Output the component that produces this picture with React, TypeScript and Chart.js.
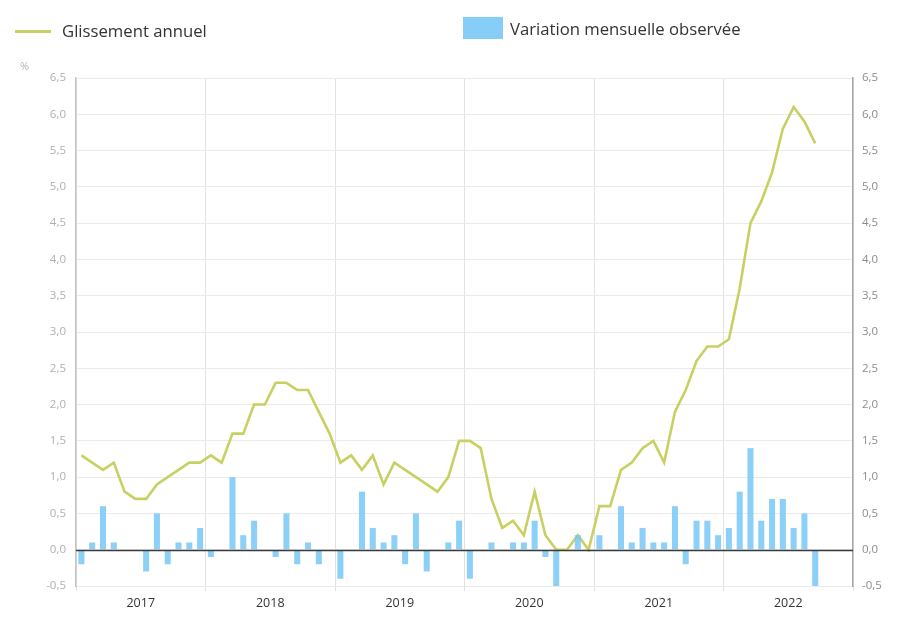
import React, { useEffect, useRef } from "react";
import { Chart, registerables } from "chart.js";

Chart.register(...registerables);

// Years shown under the axis, one label per 12 months
const years = ["2017", "2018", "2019", "2020", "2021", "2022"];

// Glissement annuel (%), monthly from January 2017 to September 2022
const glissementAnnuel = [
  1.3, 1.2, 1.1, 1.2, 0.8, 0.7, 0.7, 0.9, 1.0, 1.1, 1.2, 1.2,
  1.3, 1.2, 1.6, 1.6, 2.0, 2.0, 2.3, 2.3, 2.2, 2.2, 1.9, 1.6,
  1.2, 1.3, 1.1, 1.3, 0.9, 1.2, 1.1, 1.0, 0.9, 0.8, 1.0, 1.5,
  1.5, 1.4, 0.7, 0.3, 0.4, 0.2, 0.8, 0.2, 0.0, 0.0, 0.2, 0.0,
  0.6, 0.6, 1.1, 1.2, 1.4, 1.5, 1.2, 1.9, 2.2, 2.6, 2.8, 2.8,
  2.9, 3.6, 4.5, 4.8, 5.2, 5.8, 6.1, 5.9, 5.6,
];

// Variation mensuelle observée (%), same months
const variationMensuelle = [
  -0.2, 0.1, 0.6, 0.1, 0.0, 0.0, -0.3, 0.5, -0.2, 0.1, 0.1, 0.3,
  -0.1, 0.0, 1.0, 0.2, 0.4, 0.0, -0.1, 0.5, -0.2, 0.1, -0.2, 0.0,
  -0.4, 0.0, 0.8, 0.3, 0.1, 0.2, -0.2, 0.5, -0.3, 0.0, 0.1, 0.4,
  -0.4, 0.0, 0.1, 0.0, 0.1, 0.1, 0.4, -0.1, -0.5, 0.0, 0.2, 0.0,
  0.2, 0.0, 0.6, 0.1, 0.3, 0.1, 0.1, 0.6, -0.2, 0.4, 0.4, 0.2,
  0.3, 0.8, 1.4, 0.4, 0.7, 0.7, 0.3, 0.5, -0.5,
];

// Value axis range and step
const yMin = -0.5;
const yMax = 6.5;
const yStep = 0.5;

const LINE_COLOR = "#c9d062";
const BAR_COLOR = "rgba(120, 200, 246, 0.85)";
const LEGEND_BAR = "#86cdf7";
const FONT = "'Open Sans', 'DejaVu Sans', sans-serif";

const monthsShown = years.length * 12;
const fmt = (v: number) => v.toFixed(1).replace(".", ",");

// Zero reference line over the bars, and the unit in the top-left corner
const overlayPlugin = {
  id: "overlay",
  afterDatasetsDraw(chart: any) {
    const { ctx, chartArea, scales } = chart;
    const y0 = Math.round(scales.y.getPixelForValue(0)) + 0.5;
    ctx.save();
    ctx.strokeStyle = "#3a3a3a";
    ctx.lineWidth = 1.5;
    ctx.beginPath();
    ctx.moveTo(chartArea.left, y0);
    ctx.lineTo(chartArea.right, y0);
    ctx.stroke();
    ctx.restore();
  },
  afterDraw(chart: any) {
    const { ctx } = chart;
    ctx.save();
    ctx.fillStyle = "#b5b5b5";
    ctx.font = `11px ${FONT}`;
    ctx.textAlign = "left";
    ctx.textBaseline = "middle";
    ctx.fillText("%", 20, 67);
    ctx.restore();
  },
};

export default function App() {
  const canvasRef = useRef<HTMLCanvasElement | null>(null);

  useEffect(() => {
    document.body.style.margin = "0";
    const canvas = canvasRef.current;
    if (!canvas) return;

    const chart = new Chart(canvas, {
      type: "bar",
      data: {
        datasets: [
          {
            type: "line",
            label: "Glissement annuel",
            data: glissementAnnuel.map((v, i) => ({ x: i + 0.5, y: v })),
            borderColor: LINE_COLOR,
            backgroundColor: LINE_COLOR,
            borderWidth: 2.6,
            pointRadius: 0,
            tension: 0,
            order: 2,
            yAxisID: "y",
          } as any,
          {
            type: "bar",
            label: "Variation mensuelle observée",
            data: variationMensuelle.map((v, i) => ({ x: i + 0.5, y: v })),
            backgroundColor: BAR_COLOR,
            borderWidth: 0,
            barPercentage: 0.56,
            categoryPercentage: 1,
            order: 1,
            yAxisID: "y",
          },
        ],
      },
      options: {
        responsive: true,
        maintainAspectRatio: false,
        animation: false,
        layout: { padding: { top: 78, left: 0, right: 0, bottom: 0 } },
        plugins: {
          legend: { display: false },
          tooltip: { enabled: false },
        },
        scales: {
          x: {
            type: "linear",
            min: 0,
            max: monthsShown,
            offset: false,
            afterBuildTicks(scale: any) {
              const t = [];
              for (let k = 0; k <= monthsShown; k += 6) t.push({ value: k });
              scale.ticks = t;
            },
            afterFit(scale: any) {
              scale.height = 45;
            },
            grid: {
              offset: false,
              color: (c: any) =>
                c.tick && c.tick.value % 12 === 0 ? "#e2e2e2" : "rgba(0,0,0,0)",
              lineWidth: 1,
              drawTicks: true,
              tickLength: 5,
            },
            border: { display: false },
            ticks: {
              autoSkip: false,
              maxRotation: 0,
              padding: 5,
              color: "#333",
              font: { family: FONT, size: 12.5 },
              callback: (v: any) =>
                Number(v) % 12 === 6 ? years[(Number(v) - 6) / 12] : "",
            },
          },
          y: {
            position: "left",
            min: yMin,
            max: yMax,
            afterFit(scale: any) {
              scale.width = 76;
            },
            ticks: {
              stepSize: yStep,
              padding: 10,
              color: "#b0b0b0",
              font: { family: FONT, size: 11.5 },
              callback: (v: any) => fmt(Number(v)),
            },
            grid: { color: "#ebebeb", drawTicks: false },
            border: { display: true, color: "#c4c4c4", width: 1.5 },
          },
          y2: {
            position: "right",
            min: yMin,
            max: yMax,
            afterFit(scale: any) {
              scale.width = 50;
            },
            ticks: {
              stepSize: yStep,
              padding: 9,
              color: "#8c8c8c",
              font: { family: FONT, size: 11.5 },
              callback: (v: any) => fmt(Number(v)),
            },
            grid: { drawOnChartArea: false, drawTicks: false },
            border: { display: true, color: "#a8a8a8", width: 1.5 },
          },
        },
      },
      plugins: [overlayPlugin],
    });

    return () => chart.destroy();
  }, []);

  return (
    <div
      style={{
        position: "absolute",
        left: 0,
        top: 0,
        width: 903,
        height: 631,
        background: "#fff",
        fontFamily: FONT,
      }}
    >
      <canvas ref={canvasRef} />
      <div
        style={{
          position: "absolute",
          left: 15,
          top: 30,
          width: 36,
          height: 3,
          background: LINE_COLOR,
        }}
      />
      <div
        style={{
          position: "absolute",
          left: 62,
          top: 21,
          fontSize: 16.7,
          color: "#333",
          lineHeight: "20px",
        }}
      >
        Glissement annuel
      </div>
      <div
        style={{
          position: "absolute",
          left: 463,
          top: 17,
          width: 40,
          height: 22,
          background: LEGEND_BAR,
        }}
      />
      <div
        style={{
          position: "absolute",
          left: 510,
          top: 19,
          fontSize: 16.7,
          color: "#333",
          lineHeight: "20px",
        }}
      >
        Variation mensuelle observée
      </div>
    </div>
  );
}
